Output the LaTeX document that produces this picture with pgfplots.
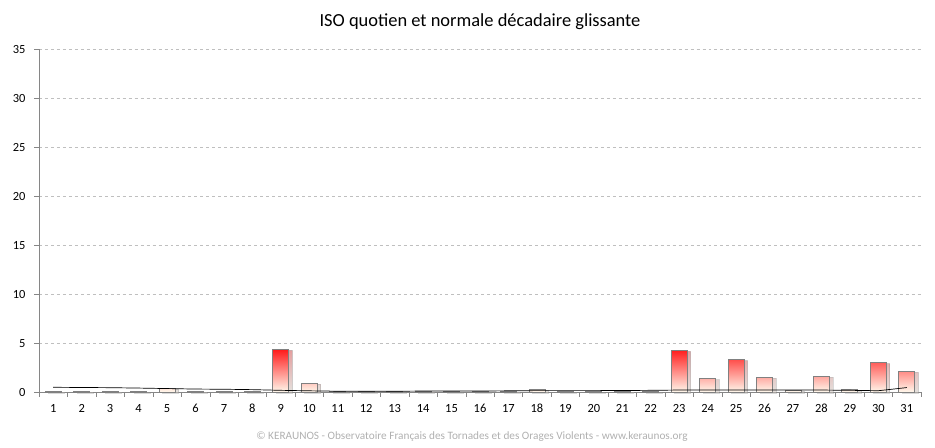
\documentclass[border=0pt]{standalone}
\usepackage{pgfplots}
\pgfplotsset{compat=1.18}
\usepackage{fontspec}
\setmainfont{Carlito}[Numbers=Lining]
\usetikzlibrary{shadows}
\definecolor{axisgray}{HTML}{868686}
\definecolor{gridgray}{HTML}{BFBFBF}
\definecolor{footgray}{HTML}{B0B0B0}
\definecolor{barred}{HTML}{FF1A1A}
\definecolor{barmid}{HTML}{FF8080}
\definecolor{barlight}{HTML}{FFF8EC}
\begin{document}
\begin{tikzpicture}[x=1bp,y=1bp]
\useasboundingbox (0,0) rectangle (935,448);
\begin{axis}[
  at={(39bp,56bp)}, anchor=origin,
  scale only axis, width=882bp, height=343bp,
  xmin=0.5, xmax=31.5, ymin=0, ymax=35,
  xtick={1,...,31},
  minor xtick={0.5,1.5,...,31.5},
  ytick={0,5,...,35},
  major x tick style={draw=none},
  minor tick length=5bp,
  major tick length=5bp,
  tick align=outside,
  xtick pos=bottom, ytick pos=left,
  axis line style={axisgray},
  every tick/.style={axisgray},
  axis x line*=bottom, axis y line*=left,
  ymajorgrids, major grid style={gridgray, dashed},
  tick label style={font=\fontsize{12.5}{13}\selectfont, black, text height=8.5bp, text depth=0bp},
  /pgf/number format/assume math mode=true,
  xticklabel style={yshift=-3bp},
  yticklabel style={xshift=-5bp},
  title={ISO quotien et normale décadaire glissante},
  title style={font=\fontsize{18.5}{20}\selectfont, at={(0.5,1)}, yshift=10bp, anchor=south},
  clip=false,
]
\addplot[ybar, bar width=16bp, draw=gray, line width=0.8pt,
  top color=barred, middle color=barmid, bottom color=barlight,
  drop shadow={shadow xshift=3.5bp, shadow yshift=-1bp, opacity=0.3, fill=gray}]
coordinates {
(1,0.1)(2,0.1)(3,0.1)(4,0.05)(5,0.38)(6,0.1)(7,0.1)(8,0.05)(9,4.35)(10,0.9)
(11,0.03)(12,0.03)(13,0.03)(14,0.08)(15,0.05)(16,0.05)(17,0.1)(18,0.25)(19,0.03)(20,0.05)
(21,0.1)(22,0.05)(23,4.25)(24,1.35)(25,3.3)(26,1.5)(27,0.15)(28,1.6)(29,0.25)(30,3.0)(31,2.1)
};
\addplot[black, line width=0.7pt, sharp plot, mark=none] coordinates {
(1,0.48)(2,0.46)(3,0.44)(4,0.4)(5,0.35)(6,0.3)(7,0.28)(8,0.24)(9,0.17)(10,0.12)
(11,0.08)(12,0.07)(13,0.07)(14,0.1)(15,0.1)(16,0.1)(17,0.12)(18,0.14)(19,0.14)(20,0.14)
(21,0.15)(22,0.17)(23,0.2)(24,0.2)(25,0.2)(26,0.2)(27,0.2)(28,0.2)(29,0.17)(30,0.13)(31,0.45)
};
\end{axis}
\node[font=\fontsize{11.3}{12}\selectfont, text=footgray] at (472,11) {© KERAUNOS - Observatoire Français des Tornades et des Orages Violents - www.keraunos.org};
\end{tikzpicture}
\end{document}
